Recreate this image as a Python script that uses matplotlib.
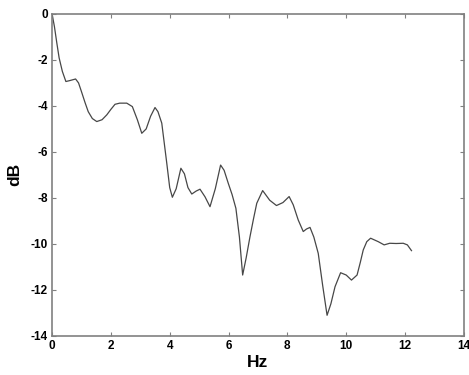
import numpy as np
import matplotlib
matplotlib.use("Agg")
import matplotlib.pyplot as plt

# magnitude response, sampled along the trace (frequency in Hz, level in dB)
freq_hz = [0.0, 0.08, 0.16, 0.24, 0.35, 0.47, 0.6, 0.8, 0.9, 1.0, 1.12, 1.23,
           1.37, 1.52, 1.7, 1.86, 2.0, 2.14, 2.3, 2.54, 2.73, 2.9, 3.05, 3.2,
           3.35, 3.5, 3.6, 3.73, 3.9, 4.0, 4.09, 4.22, 4.38, 4.5, 4.62, 4.75,
           4.9, 5.03, 5.2, 5.37, 5.55, 5.73, 5.85, 5.99, 6.12, 6.25, 6.37,
           6.48, 6.6, 6.73, 6.85, 6.96, 7.16, 7.4, 7.63, 7.85, 8.06, 8.2, 8.37,
           8.54, 8.65, 8.77, 8.9, 9.05, 9.2, 9.35, 9.48, 9.62, 9.81, 10.0,
           10.18, 10.37, 10.48, 10.58, 10.7, 10.83, 11.09, 11.29, 11.48, 11.7,
           11.94, 12.08, 12.22]
level_db = [0.0, -0.55, -1.25, -1.91, -2.5, -2.94, -2.9, -2.83, -3.0, -3.38,
            -3.85, -4.25, -4.55, -4.68, -4.6, -4.39, -4.15, -3.93, -3.88, -3.88,
            -4.03, -4.6, -5.19, -5.0, -4.45, -4.07, -4.25, -4.75, -6.49, -7.55,
            -7.97, -7.6, -6.71, -6.95, -7.55, -7.83, -7.7, -7.62, -7.95, -8.38,
            -7.6, -6.57, -6.8, -7.36, -7.85, -8.45, -9.7, -11.35, -10.6, -9.68,
            -8.9, -8.23, -7.68, -8.1, -8.33, -8.2, -7.94, -8.3, -8.96, -9.46,
            -9.35, -9.28, -9.7, -10.41, -11.8, -13.1, -12.6, -11.86, -11.25,
            -11.35, -11.57, -11.35, -10.8, -10.26, -9.9, -9.75, -9.9, -10.04,
            -9.97, -9.98, -9.97, -10.04, -10.29]

xticks = [0, 2, 4, 6, 8, 10, 12, 14]
yticks = [0, -2, -4, -6, -8, -10, -12, -14]

plt.rcParams['font.family'] = ['Liberation Sans', 'DejaVu Sans']
plt.rcParams['axes.unicode_minus'] = False

fig = plt.figure(figsize=(4.69, 3.75), dpi=100)
ax = fig.add_axes([0.111, 0.104, 0.878, 0.859])
ax.plot(freq_hz, level_db, color='#474747', lw=0.9)

ax.set_xlim(0, 14)
ax.set_ylim(-14, 0)
ax.set_xticks(xticks)
ax.set_yticks(yticks)
ax.tick_params(direction='in', length=3, width=0.8, color='#808080',
               top=True, right=True, labelsize=8.5, pad=3)
for lbl in ax.get_xticklabels() + ax.get_yticklabels():
    lbl.set_fontweight('bold')
for s in ax.spines.values():
    s.set_color('#808080')
    s.set_linewidth(1.2)

ax.set_xlabel('Hz', fontsize=12.5, fontweight='bold', labelpad=2)
ax.set_ylabel('dB', fontsize=12.5, fontweight='bold', labelpad=6)

fig.savefig('out.png', dpi=100)
